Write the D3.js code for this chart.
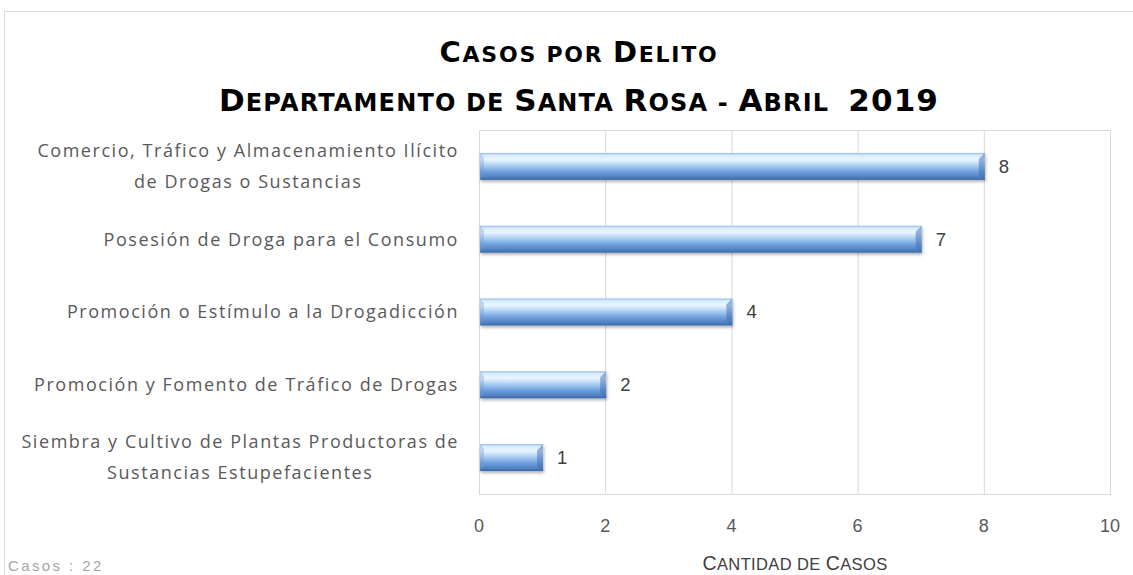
<!DOCTYPE html>
<html><head><meta charset="utf-8">
<script src="https://cdn.jsdelivr.net/npm/d3@7"></script>
<style>body{margin:0;background:#fff;} svg{display:block;}</style>
</head><body>
<script>
const categories = [
  ["Comercio, Tráfico y Almacenamiento Ilícito", "de Drogas o Sustancias"],
  ["Posesión de Droga para el Consumo"],
  ["Promoción o Estímulo a la Drogadicción"],
  ["Promoción y Fomento de Tráfico de Drogas"],
  ["Siembra y Cultivo de Plantas Productoras de", "Sustancias Estupefacientes"]
];
const values = [8, 7, 4, 2, 1];
const xTicks = [0, 2, 4, 6, 8, 10];
const titleLines = ["Casos por Delito", "Departamento de Santa Rosa - Abril  2019"];
const axisTitle = "Cantidad de Casos";
const footnote = "Casos : 22";

const W = 1133, H = 575;
const m = {left: 479, right: 1110, top: 130, bottom: 494};
const FONT = "Liberation Sans, Arial, sans-serif";
const LFONT = "Open Sans, Liberation Sans, sans-serif";
const svg = d3.select("body").append("svg").attr("width", W).attr("height", H);
const defs = svg.append("defs");
const g1 = defs.append("linearGradient").attr("id","barG").attr("x1",0).attr("y1",0).attr("x2",0).attr("y2",1);
[[0,"#8fb8e8"],[0.08,"#d6ecff"],[0.25,"#eaf6ff"],[0.45,"#b2d2f4"],[0.7,"#6f9fdc"],[0.9,"#4f80c2"],[1,"#3a66a3"]]
  .forEach(([o,c])=>g1.append("stop").attr("offset",o).attr("stop-color",c));
const f = defs.append("filter").attr("id","sh").attr("x","-5%").attr("y","-20%").attr("width","110%").attr("height","160%");
f.append("feDropShadow").attr("dx",1).attr("dy",2).attr("stdDeviation",1.5).attr("flood-color","#000").attr("flood-opacity",0.3);

// outer border
svg.append("rect").attr("x",4.5).attr("y",11.5).attr("width",W+20).attr("height",H+20)
  .attr("fill","none").attr("stroke","#d9d9d9");

const x = d3.scaleLinear().domain([0,10]).range([m.left, m.right]);
const y = d3.scaleBand().domain(d3.range(values.length)).range([m.top, m.bottom]).paddingInner(0.63).paddingOuter(0.315);

// grid
svg.append("g").selectAll("line").data(xTicks).join("line")
  .attr("x1",d=>x(d)+0.5).attr("x2",d=>x(d)+0.5).attr("y1",m.top).attr("y2",m.bottom)
  .attr("stroke","#d9d9d9");
svg.append("rect").attr("x",m.left+0.5).attr("y",m.top+0.5).attr("width",m.right-m.left).attr("height",m.bottom-m.top)
  .attr("fill","none").attr("stroke","#d9d9d9");

// bars
const bars = svg.append("g").selectAll("g").data(values).join("g");
bars.append("rect").attr("x",x(0)+1).attr("y",(d,i)=>y(i)).attr("width",d=>x(d)-x(0)).attr("height",y.bandwidth())
  .attr("fill","url(#barG)").attr("filter","url(#sh)");
bars.append("path").attr("d",(d,i)=>{const x1=x(d)+1,y0=y(i),h=y.bandwidth();
  return `M${x1},${y0} L${x1-6},${y0+6} L${x1-6},${y0+h-5} L${x1},${y0+h} Z`;})
  .attr("fill","#3e6eb0").attr("opacity",0.5);
bars.append("path").attr("d",(d,i)=>{const x0=x(0)+1,y0=y(i),h=y.bandwidth();
  return `M${x0},${y0} L${x0+4},${y0+5} L${x0+4},${y0+h-4} L${x0},${y0+h} Z`;})
  .attr("fill","#6d9bd6").attr("opacity",0.35);

// value labels
svg.append("g").selectAll("text").data(values).join("text")
  .attr("x",d=>x(d)+15).attr("y",(d,i)=>y(i)+y.bandwidth()/2)
  .attr("dy","0.35em").attr("font-family",FONT).attr("font-size",18.5)
  .attr("fill","#404040").text(d=>d);

// tick labels
svg.append("g").selectAll("text").data(xTicks).join("text")
  .attr("x",d=>x(d)).attr("y",531.5).attr("text-anchor","middle")
  .attr("font-family",FONT).attr("font-size",18).attr("fill","#595959").text(d=>d);

// category labels: spacing fitted on the longest line
const probe = svg.append("text").attr("font-family",LFONT).attr("font-size",18).text(categories[3][0]);
const pw = probe.node().getComputedTextLength();
const catSpacing = (425 - pw) / categories[3][0].length;
probe.remove();
categories.forEach((lines,i)=>{
  const cy = y(i)+y.bandwidth()/2;
  const gT = svg.append("g");
  const ts = lines.map((l,j)=>gT.append("text").attr("font-family",LFONT).attr("font-size",18)
    .attr("letter-spacing",catSpacing).attr("fill","#595959").attr("dy","0.35em")
    .attr("y", cy + (j-(lines.length-1)/2)*31).text(l));
  const maxW = d3.max(ts, t=>t.node().getComputedTextLength());
  if (lines.length===1) ts.forEach(t=>t.attr("x",459).attr("text-anchor","end"));
  else ts.forEach(t=>t.attr("x",459-maxW/2).attr("text-anchor","middle"));
});

// manual small caps
function smallCaps(sel, str, big, small){
  for (const ch of str){
    const isBig = ch !== ch.toLowerCase() || /[0-9]/.test(ch);
    sel.append("tspan").attr("font-size", isBig?big:small).text(ch.toUpperCase());
  }
  return sel;
}
function fitSpacing(sel, target){
  const w = sel.node().getComputedTextLength();
  const n = sel.text().length;
  sel.attr("letter-spacing", (target - w)/n);
}

const TFONT = "DejaVu Sans, Open Sans, sans-serif";
const t1 = svg.append("text").attr("x",579).attr("y",61.5).attr("text-anchor","middle")
  .attr("font-family",TFONT).attr("font-weight","bold").attr("fill","#000");
smallCaps(t1, titleLines[0], 29, 22); fitSpacing(t1, 279);
const t2 = svg.append("text").attr("x",579).attr("y",110.5).attr("text-anchor","middle")
  .attr("font-family",TFONT).attr("font-weight","bold").attr("fill","#000").attr("xml:space","preserve");
smallCaps(t2, titleLines[1], 31, 24); fitSpacing(t2, 720);

const at = svg.append("text").attr("x",795).attr("y",570).attr("text-anchor","middle")
  .attr("font-family",FONT).attr("fill","#404040");
smallCaps(at, axisTitle, 19.5, 16.5); fitSpacing(at, 185);

svg.append("text").attr("x",8).attr("y",571)
  .attr("font-family",FONT).attr("font-size",15).attr("letter-spacing",2.4)
  .attr("fill","#a6a6a6").text(footnote);
</script>
</body></html>
